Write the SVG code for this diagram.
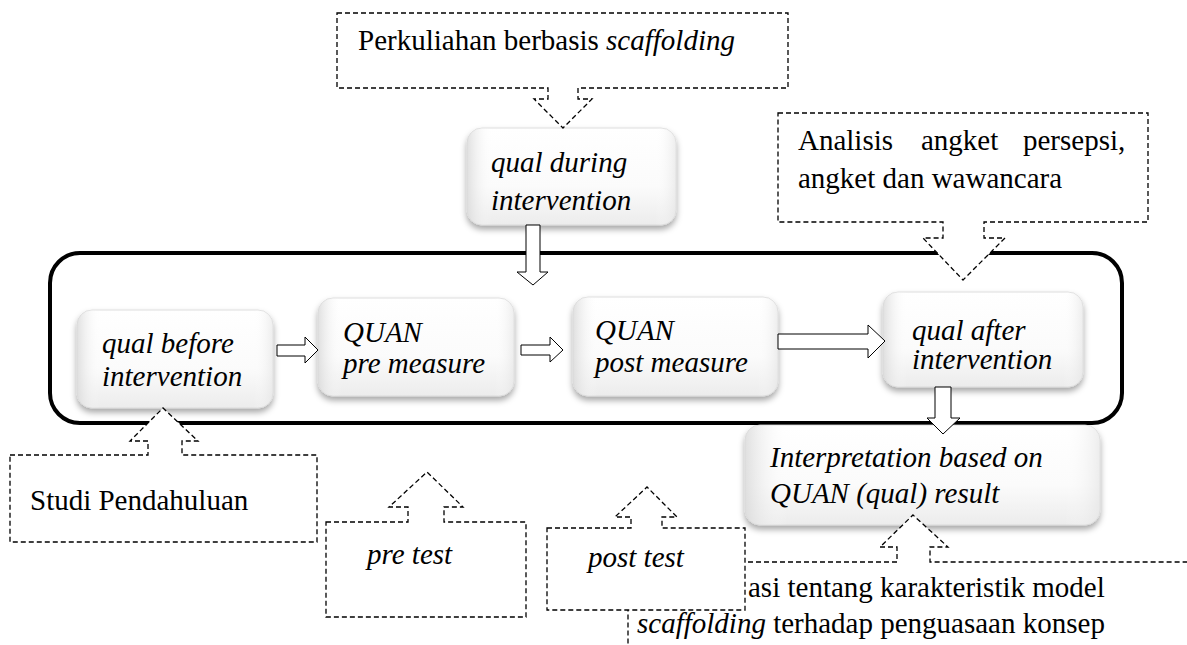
<svg xmlns="http://www.w3.org/2000/svg" width="1187" height="645" viewBox="0 0 1187 645">
<defs>
<linearGradient id="nodeFill" x1="0" y1="0" x2="0" y2="1">
<stop offset="0" stop-color="#ffffff"/>
<stop offset="0.6" stop-color="#fbfbfb"/>
<stop offset="1" stop-color="#ececec"/>
</linearGradient>
<linearGradient id="bevel" x1="0" y1="0" x2="1" y2="0">
<stop offset="0" stop-color="#d8d8d8" stop-opacity="0.8"/>
<stop offset="0.12" stop-color="#ffffff" stop-opacity="0"/>
<stop offset="0.9" stop-color="#ffffff" stop-opacity="0"/>
<stop offset="1" stop-color="#e2e2e2" stop-opacity="0.6"/>
</linearGradient>
<filter id="shadow" x="-10%" y="-10%" width="120%" height="130%">
<feDropShadow dx="0" dy="4" stdDeviation="3" flood-color="#000" flood-opacity="0.35"/>
</filter>
</defs>
<style>
.frame{fill:none;stroke:#000;stroke-width:4}
.node{fill:url(#nodeFill);stroke:#d6d6d6;stroke-width:0.8;filter:url(#shadow)}
.bev{fill:url(#bevel);stroke:none}
.nt{font-size:29px;font-style:italic;fill:#000}
.ct{font-size:29px;fill:#000}
.it{font-style:italic}
.blk{fill:#fff;stroke:#000;stroke-width:1}
.call{fill:#fff;stroke:#000;stroke-width:1.3;stroke-dasharray:5,3}
</style>

<rect class="frame" x="50" y="253" width="1072" height="170" rx="30" ry="30"/>

<g font-family="'Liberation Serif', 'Times New Roman', serif">
<g id="node-qual-before">
<rect class="node" x="77" y="310" width="196" height="98" rx="15"/>
<rect class="bev" x="77" y="310" width="196" height="98" rx="15"/>
<text class="nt" x="102" y="353">qual before</text>
<text class="nt" x="102" y="386">intervention</text>
</g>
<g id="node-quan-pre">
<rect class="node" x="318" y="298" width="196" height="98" rx="15"/>
<rect class="bev" x="318" y="298" width="196" height="98" rx="15"/>
<text class="nt" x="343" y="342">QUAN</text>
<text class="nt" x="343" y="373">pre measure</text>
</g>
<g id="node-quan-post">
<rect class="node" x="573" y="297" width="205" height="99" rx="15"/>
<rect class="bev" x="573" y="297" width="205" height="99" rx="15"/>
<text class="nt" x="595" y="340">QUAN</text>
<text class="nt" x="595" y="372">post measure</text>
</g>
<g id="node-qual-after">
<rect class="node" x="883" y="292" width="200" height="95" rx="15"/>
<rect class="bev" x="883" y="292" width="200" height="95" rx="15"/>
<text class="nt" x="912" y="340">qual after</text>
<text class="nt" x="912" y="369">intervention</text>
</g>
<g id="node-qual-during">
<rect class="node" x="467" y="128" width="209" height="97" rx="15"/>
<rect class="bev" x="467" y="128" width="209" height="97" rx="15"/>
<text class="nt" x="491" y="172">qual during</text>
<text class="nt" x="491" y="210">intervention</text>
</g>
<g id="node-interpretation">
<rect class="node" x="745" y="425" width="355" height="100" rx="15"/>
<rect class="bev" x="745" y="425" width="355" height="100" rx="15"/>
<text class="nt" x="770" y="467">Interpretation based on</text>
<text class="nt" x="770" y="503">QUAN (qual) result</text>
</g>

<g id="connectors">
<path class="blk" d="M277,345 L305,345 L305,337 L318,350 L305,363 L305,356 L277,356 Z"/>
<path class="blk" d="M521,345 L550,345 L550,337 L563,350 L550,362 L550,355 L521,355 Z"/>
<path class="blk" d="M778,334 L868,334 L868,325 L885,341 L868,358 L868,349 L778,349 Z"/>
<path class="blk" d="M526,225 L540,225 L540,272 L548,272 L533,285 L517,272 L526,272 Z"/>
<path class="blk" d="M935,387 L951,387 L951,418 L960,418 L943,434 L927,418 L935,418 Z"/>
</g>

<g id="callout-generalisasi">
<path class="call" d="M628,562 L897,562 L897,547 L880,547 L913,515 L948,547 L930,547 L930,562 L1200,562 L1200,660 L628,660 Z"/>
<text class="ct" x="748" y="597">asi tentang karakteristik model</text>
<text class="ct" x="637" y="633"><tspan class="it">scaffolding</tspan> terhadap penguasaan konsep</text>
</g>

<g id="callout-perkuliahan">
<path class="call" d="M337,13 L788,13 L788,88 L578,88 L578,99 L592,99 L563,128 L534,99 L548,99 L548,88 L337,88 Z"/>
<text class="ct" x="358" y="50">Perkuliahan berbasis <tspan class="it">scaffolding</tspan></text>
</g>

<g id="callout-analisis">
<path class="call" d="M778,113 L1148,113 L1148,222 L984,222 L984,238 L1005,238 L963,280 L923,238 L943,238 L943,222 L778,222 Z"/>
<text class="ct" y="150"><tspan x="798">Analisis</tspan><tspan x="921">angket</tspan><tspan x="1023">persepsi,</tspan></text>
<text class="ct" x="798" y="188">angket dan wawancara</text>
</g>

<g id="callout-studi">
<path class="call" d="M10,455 L148,455 L148,441 L130,441 L163,408 L198,441 L182,441 L182,455 L317,455 L317,542 L10,542 Z"/>
<text class="ct" x="30" y="510">Studi Pendahuluan</text>
</g>

<g id="callout-pretest">
<path class="call" d="M326,522 L408,522 L408,507 L389,507 L427,472 L463,507 L444,507 L444,522 L526,522 L526,617 L326,617 Z"/>
<text class="ct it" x="367" y="564">pre test</text>
</g>

<g id="callout-posttest">
<path class="call" d="M547,528 L631,528 L631,517 L615,517 L647,487 L677,517 L662,517 L662,528 L745,528 L745,610 L547,610 Z"/>
<text class="ct it" x="588" y="567">post test</text>
</g>
</g>
</svg>
